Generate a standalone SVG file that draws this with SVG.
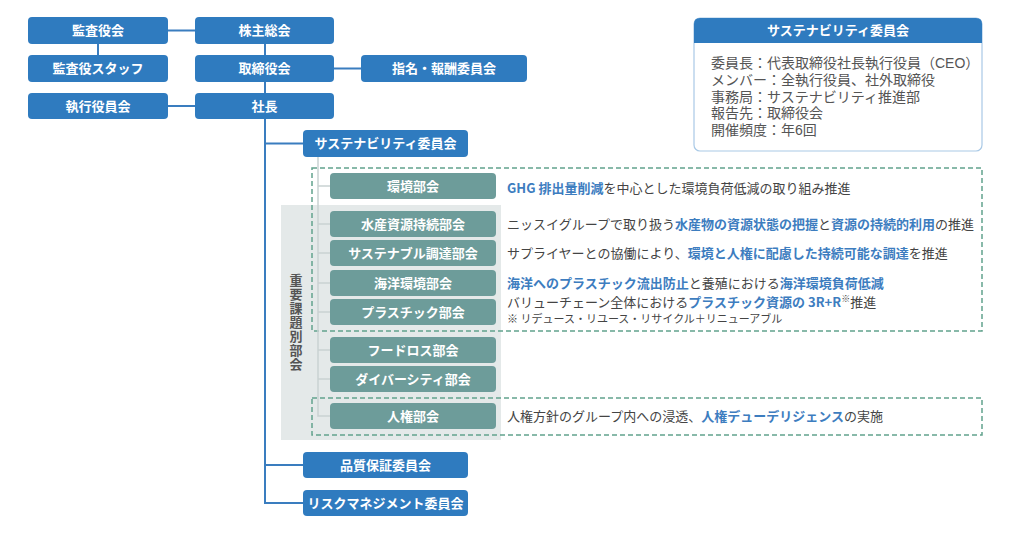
<svg xmlns="http://www.w3.org/2000/svg" width="1024" height="542" viewBox="0 0 1024 542">
<style>
text{font-family:"Noto Sans CJK JP","Noto Sans",sans-serif}
.bb{fill:#2f7bbf}
.tb{fill:#6d9c9a}
.lb{fill:#fff;font-size:13px;font-weight:700;text-anchor:middle}
.ln{stroke:#3a7dbf;stroke-width:2;fill:none}
.lg{stroke:#c9d2d2;stroke-width:1.5;fill:none}
.dash{fill:none;stroke:#62a28d;stroke-width:1.5;stroke-dasharray:5 3}
.d{font-size:13px;fill:#444}
.note{font-size:11px;fill:#444}
.sup{font-size:9px}
.h{fill:#3d7dbf;font-weight:700}
.info{font-size:14px;fill:#555;font-family:"Liberation Sans","Noto Sans CJK JP",sans-serif}
.vt{font-size:13px;font-weight:700;fill:#555;text-anchor:middle;writing-mode:vertical-rl;letter-spacing:1px}
</style>
<rect width="1024" height="542" fill="#fff"/>
<rect x="281" y="205" width="220" height="235" fill="#e4e9e9"/>
<text class="vt" x="296" y="323">重要課題別部会</text>
<rect class="dash" x="312" y="168" width="670" height="163"/>
<rect class="dash" x="312" y="398" width="670" height="37"/>
<g id="connectors">
<path class="ln" d="M168 30.5H195M98 44V55M265 44V55M265 82V93M334 68.5H361M168 106H195M265 119V503H303M265 143.5H303M265 465H303"/>
<path class="lg" d="M318 157V416H330M318 186H330M318 224H330M318 253H330M318 283H330M318 312H330M318 350H330M318 379H330"/>
</g>
<g id="kansayakukai"><rect class="bb" x="28" y="17" width="140" height="27" rx="4"/><text class="lb" x="98" y="35">監査役会</text></g>
<g id="kabunushi"><rect class="bb" x="195" y="17" width="139" height="27" rx="4"/><text class="lb" x="264.5" y="35">株主総会</text></g>
<g id="staff"><rect class="bb" x="28" y="55" width="140" height="27" rx="4"/><text class="lb" x="98" y="73">監査役スタッフ</text></g>
<g id="torishimariyaku"><rect class="bb" x="195" y="55" width="139" height="27" rx="4"/><text class="lb" x="264.5" y="73">取締役会</text></g>
<g id="shimei"><rect class="bb" x="361" y="55" width="166" height="27" rx="4"/><text class="lb" x="444" y="73">指名・報酬委員会</text></g>
<g id="shikkou"><rect class="bb" x="28" y="93" width="140" height="26" rx="4"/><text class="lb" x="98" y="110.5">執行役員会</text></g>
<g id="shachou"><rect class="bb" x="195" y="93" width="139" height="26" rx="4"/><text class="lb" x="264.5" y="110.5">社長</text></g>
<g id="sustain"><rect class="bb" x="303" y="130" width="165" height="27" rx="4"/><text class="lb" x="385.5" y="148">サステナビリティ委員会</text></g>
<g id="hinshitsu"><rect class="bb" x="303" y="452" width="165" height="26" rx="4"/><text class="lb" x="385.5" y="469.5">品質保証委員会</text></g>
<g id="risk"><rect class="bb" x="303" y="490" width="165" height="26" rx="4"/><text class="lb" x="385.5" y="507.5">リスクマネジメント委員会</text></g>
<g id="kankyou"><rect class="tb" x="330" y="173" width="166" height="26" rx="4"/><text class="lb" x="413" y="190.5">環境部会</text>
<text class="d" x="507" y="193"><tspan class="h">GHG 排出量削減</tspan>を中心とした環境負荷低減の取り組み推進</text></g>
<g id="suisan"><rect class="tb" x="330" y="211" width="166" height="26" rx="4"/><text class="lb" x="413" y="228.5">水産資源持続部会</text>
<text class="d" x="507" y="229">ニッスイグループで取り扱う<tspan class="h">水産物の資源状態の把握</tspan>と<tspan class="h">資源の持続的利用</tspan>の推進</text></g>
<g id="chotatsu"><rect class="tb" x="330" y="240" width="166" height="26" rx="4"/><text class="lb" x="413" y="257.5">サステナブル調達部会</text>
<text class="d" x="507" y="258">サプライヤーとの協働により、<tspan class="h">環境と人権に配慮した持続可能な調達</tspan>を推進</text></g>
<g id="kaiyou"><rect class="tb" x="330" y="270" width="166" height="26" rx="4"/><text class="lb" x="413" y="287.5">海洋環境部会</text>
<text class="d" x="507" y="288"><tspan class="h">海洋へのプラスチック流出防止</tspan>と養殖における<tspan class="h">海洋環境負荷低減</tspan></text></g>
<g id="plastic"><rect class="tb" x="330" y="299" width="166" height="26" rx="4"/><text class="lb" x="413" y="316.5">プラスチック部会</text>
<text class="d" x="507" y="307">バリューチェーン全体における<tspan class="h">プラスチック資源の 3R+R</tspan><tspan class="sup" dy="-5">※</tspan><tspan dy="5">推進</tspan></text>
<text class="note" x="507" y="323">※ リデュース・リユース・リサイクル＋リニューアブル</text></g>
<g id="foodloss"><rect class="tb" x="330" y="337" width="166" height="26" rx="4"/><text class="lb" x="413" y="354.5">フードロス部会</text></g>
<g id="diversity"><rect class="tb" x="330" y="366" width="166" height="26" rx="4"/><text class="lb" x="413" y="383.5">ダイバーシティ部会</text></g>
<g id="jinken"><rect class="tb" x="330" y="403" width="166" height="26" rx="4"/><text class="lb" x="413" y="420.5">人権部会</text>
<text class="d" x="507" y="421">人権方針のグループ内への浸透、<tspan class="h">人権デューデリジェンス</tspan>の実施</text></g>
<g id="info">
<rect x="694" y="18" width="288" height="133" rx="6" fill="#fff" stroke="#a9c9e6" stroke-width="1.2"/>
<path class="bb" d="M700 18H976Q982 18 982 24V43H694V24Q694 18 700 18Z"/>
<text class="lb" x="838" y="35">サステナビリティ委員会</text>
<text class="info"><tspan x="711" y="68">委員長：代表取締役社長執行役員（CEO）</tspan><tspan x="711" y="85">メンバー：全執行役員、社外取締役</tspan><tspan x="711" y="102">事務局：サステナビリティ推進部</tspan><tspan x="711" y="118">報告先：取締役会</tspan><tspan x="711" y="135">開催頻度：年6回</tspan></text>
</g>
</svg>
